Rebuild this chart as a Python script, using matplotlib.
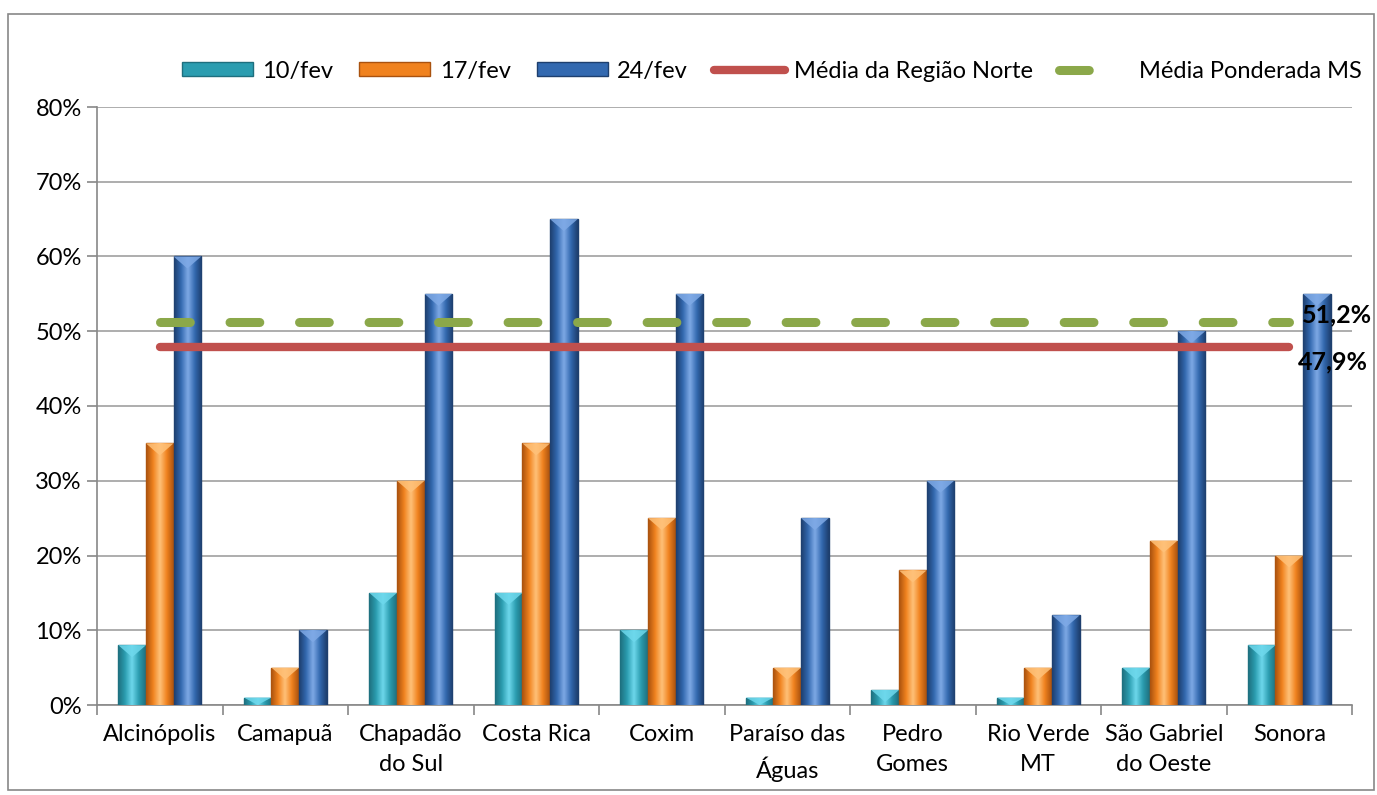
import matplotlib
matplotlib.use('Agg')
import matplotlib.pyplot as plt
import numpy as np
from matplotlib.colors import LinearSegmentedColormap
from matplotlib.lines import Line2D
from matplotlib.patches import Patch, Polygon, Rectangle

plt.rcParams['font.family'] = ['Lato', 'DejaVu Sans']

cidades = ['Alcinópolis', 'Camapuã', 'Chapadão\ndo Sul', 'Costa Rica', 'Coxim',
           'Paraíso das\nÁguas', 'Pedro\nGomes', 'Rio Verde\nMT', 'São Gabriel\ndo Oeste', 'Sonora']
fev10 = [8, 1, 15, 15, 10, 1, 2, 1, 5, 8]
fev17 = [35, 5, 30, 35, 25, 5, 18, 5, 22, 20]
fev24 = [60, 10, 55, 65, 55, 25, 30, 12, 50, 55]
media_norte = 47.9
media_ms = 51.2

series = [('10/fev', fev10, '#2B9DB0', '#1E6F7E', '#6ED8EC'),
          ('17/fev', fev17, '#F0821E', '#A9520F', '#FFC27A'),
          ('24/fev', fev24, '#3369B0', '#1E3F6E', '#7FAAE6')]

fig = plt.figure(figsize=(13.77, 7.95), dpi=100)
fig.patches.append(Rectangle((0.006, 0.006), 0.992, 0.977, transform=fig.transFigure,
                             fill=False, edgecolor='#888888', linewidth=1.2))
ax = fig.add_axes([97/1377, 1 - 705/795, 1255/1377, 598/795])

x = np.arange(len(cidades))
w = 0.22
for i, (nome, vals, cor, escuro, claro) in enumerate(series):
    bars = ax.bar(x + (i - 1) * w, vals, w, color=cor, edgecolor=escuro, linewidth=1.0, zorder=3)
    cmap = LinearSegmentedColormap.from_list(nome, [escuro, cor, claro, cor, escuro])
    grad = np.linspace(0, 1, 64).reshape(1, -1)
    for b in bars:
        bx, bw, bh = b.get_x(), b.get_width(), b.get_height()
        im = ax.imshow(grad, extent=[bx, bx + bw, 0, bh], cmap=cmap, aspect='auto',
                       zorder=3, interpolation='bicubic')
        im.set_clip_path(b)
        dh = min(1.6, bh)
        ax.add_patch(Polygon([(bx, bh), (bx + bw, bh), (bx + bw / 2, bh - dh)],
                             closed=True, color=claro, alpha=0.85, zorder=4, linewidth=0))

ax.plot([x[0], x[-1]], [media_norte, media_norte], color='#C0504D', linewidth=6,
        solid_capstyle='round', zorder=5)
ax.plot([x[0], x[-1]], [media_ms, media_ms], color='#8BA84A', linewidth=6.5,
        dashes=(3.3, 4.4), dash_capstyle='round', zorder=5)

ax.text(x[-1] + 0.1, media_ms + 1.0, f'{media_ms:.1f}%'.replace('.', ','), fontsize=18,
        fontweight='bold', va='center', ha='left', zorder=6)
ax.text(x[-1] + 0.07, media_norte - 0.4, f'{media_norte:.1f}%'.replace('.', ','), fontsize=18,
        fontweight='bold', va='top', ha='left', zorder=6)

ax.set_xlim(-0.5, len(cidades) - 0.5)
ax.set_ylim(0, 80)
ax.set_yticks(range(0, 81, 10))
ax.set_yticklabels([f'{v}%' for v in range(0, 81, 10)], fontsize=17)
ax.set_xticks(x)
ax.set_xticklabels(cidades, fontsize=17, linespacing=1.5)
ax.set_xticks(np.arange(-0.5, len(cidades), 1), minor=True)
ax.tick_params(axis='x', which='major', length=0, pad=14)
ax.tick_params(axis='x', which='minor', length=7, color='#888888', width=1.2)
ax.tick_params(axis='y', length=7, color='#888888', width=1.2, pad=4)
ax.grid(axis='y', color='#A0A0A0', linewidth=1.2, zorder=0)
ax.set_axisbelow(True)
for s in ['top', 'right']:
    ax.spines[s].set_visible(False)
for s in ['left', 'bottom']:
    ax.spines[s].set_color('#888888')
    ax.spines[s].set_linewidth(1.2)

handles = [Patch(facecolor=c, edgecolor=e) for _, _, c, e, _ in series]
handles += [Line2D([], [], color='#C0504D', linewidth=6, solid_capstyle='round'),
            Line2D([], [], color='#8BA84A', linewidth=6.5, dashes=(3.3, 20),
                   dash_capstyle='round')]
labels = [s[0] for s in series] + ['Média da Região Norte', 'Média Ponderada MS']
ax.legend(handles, labels, ncol=5, loc='center', bbox_to_anchor=(0.538, 1.06),
          frameon=False, fontsize=17, handlelength=3.0, handleheight=0.55,
          columnspacing=1.1, handletextpad=0.4)

fig.savefig('out.png', dpi=100)
